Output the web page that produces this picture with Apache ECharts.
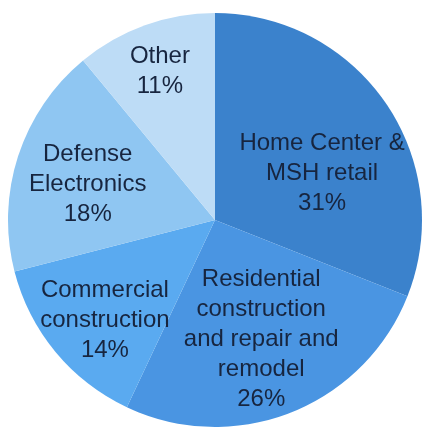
<!DOCTYPE html>
<html><head><meta charset="utf-8">
<script src="https://cdn.jsdelivr.net/npm/echarts@6/dist/echarts.min.js"></script>
<style>html,body{margin:0;padding:0;background:#fff}#c{width:422px;height:431px}</style>
</head><body><div id="c"></div>
<script>
var categories = ['Home Center &\nMSH retail', 'Residential\nconstruction\nand repair and\nremodel', 'Commercial\nconstruction', 'Defense\nElectronics', 'Other'];
var values = [31, 26, 14, 18, 11];
var colors = ['#3b82cc', '#4a95e2', '#5aaaf0', '#8fc6f2', '#bddcf6'];
var labelOffsets = [[19, 13], [7, 20], [-28, 32], [-26, -3], [-19, -48]];

var data = categories.map(function (c, i) {
  return {
    name: c,
    value: values[i],
    itemStyle: { color: colors[i] },
    label: { offset: labelOffsets[i] }
  };
});

var chart = echarts.init(document.getElementById('c'));
chart.setOption({
  animation: false,
  series: [{
    type: 'pie',
    center: [215, 220],
    radius: [0, 207],
    startAngle: 90,
    clockwise: true,
    data: data,
    itemStyle: { borderWidth: 0 },
    label: {
      show: true,
      position: 'inside',
      formatter: function (p) { return p.name + '\n' + p.value + '%'; },
      color: '#17253f',
      fontFamily: 'Liberation Sans, Arial, sans-serif',
      fontSize: 24,
      lineHeight: 30,
      align: 'center'
    },
    labelLine: { show: false }
  }]
});
</script></body></html>
